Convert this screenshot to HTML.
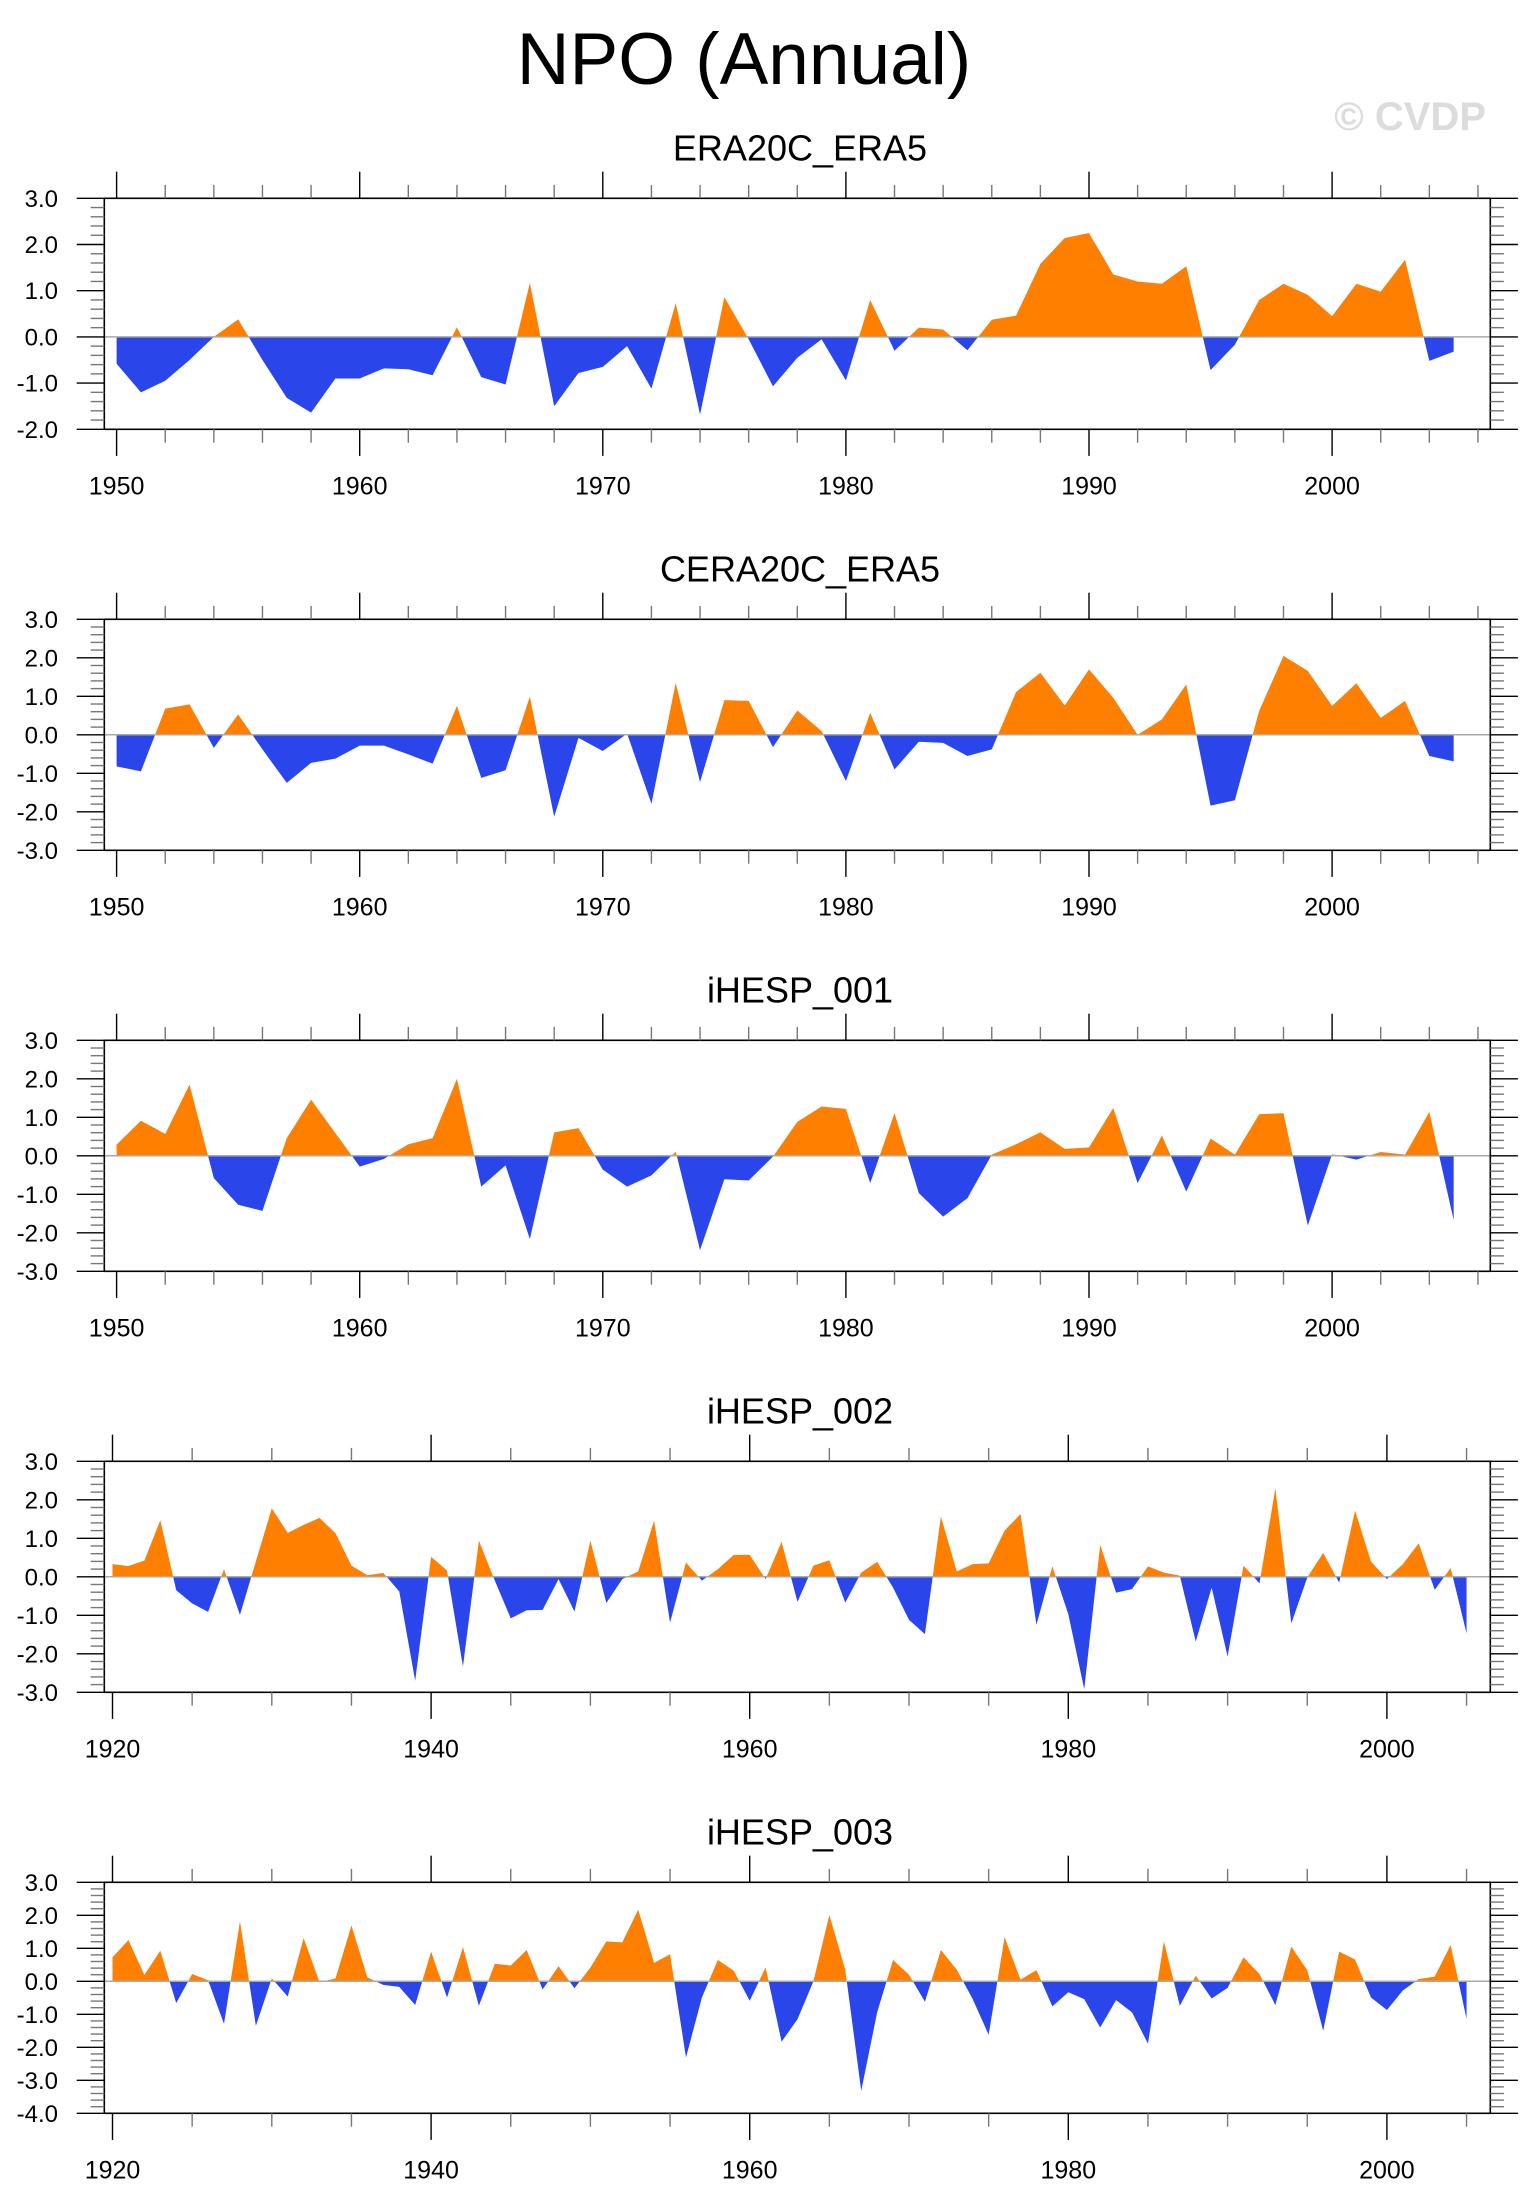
<!DOCTYPE html>
<html><head><meta charset="utf-8"><style>
html,body{margin:0;padding:0;background:#fff;}
svg{display:block;font-family:"Liberation Sans",Arial,sans-serif;}
</style></head><body>
<svg id="chart" width="1533" height="2211" viewBox="0 0 1533 2211" xmlns="http://www.w3.org/2000/svg">
<text x="744" y="84" font-size="73" text-anchor="middle" fill="#000">NPO (Annual)</text>
<text x="1486" y="130" font-size="40" font-weight="bold" text-anchor="end" fill="#dcdcdc">© CVDP</text>
</svg>
<script>
const titles = ["ERA20C_ERA5","CERA20C_ERA5","iHESP_001","iHESP_002","iHESP_003"];
const startYears = [1950,1950,1950,1920,1920];
const yMins = [-2,-3,-3,-3,-4];
const yMaxs = [3,3,3,3,3];
const era20c = [-0.58,-1.2,-0.95,-0.5,0.0,0.38,-0.5,-1.32,-1.64,-0.9,-0.9,-0.68,-0.7,-0.83,0.21,-0.87,-1.03,1.17,-1.5,-0.78,-0.65,-0.2,-1.12,0.73,-1.68,0.86,-0.05,-1.07,-0.45,-0.05,-0.94,0.8,-0.3,0.2,0.16,-0.29,0.37,0.46,1.58,2.14,2.25,1.35,1.2,1.15,1.53,-0.72,-0.17,0.8,1.15,0.91,0.45,1.15,0.98,1.67,-0.52,-0.32];
const cera20c = [-0.82,-0.95,0.68,0.79,-0.34,0.53,-0.38,-1.25,-0.73,-0.62,-0.28,-0.28,-0.51,-0.75,0.75,-1.12,-0.92,0.99,-2.13,-0.08,-0.42,0.03,-1.79,1.35,-1.23,0.9,0.88,-0.32,0.63,0.1,-1.2,0.57,-0.9,-0.18,-0.21,-0.55,-0.38,1.11,1.61,0.76,1.7,0.96,0.0,0.4,1.31,-1.84,-1.7,0.62,2.05,1.66,0.75,1.34,0.44,0.88,-0.55,-0.69];
const ihesp001 = [0.29,0.91,0.57,1.85,-0.58,-1.27,-1.43,0.46,1.46,0.59,-0.28,-0.08,0.3,0.46,2.0,-0.8,-0.25,-2.16,0.61,0.72,-0.36,-0.8,-0.51,0.11,-2.45,-0.61,-0.64,-0.02,0.88,1.28,1.22,-0.71,1.11,-0.97,-1.58,-1.1,0.03,0.3,0.61,0.18,0.22,1.24,-0.71,0.53,-0.93,0.45,0.03,1.08,1.11,-1.81,0.04,-0.1,0.1,0.03,1.14,-1.67];
const ihesp002 = [0.33,0.28,0.42,1.47,-0.35,-0.69,-0.91,0.2,-0.99,0.4,1.78,1.14,1.35,1.53,1.13,0.29,0.04,0.1,-0.38,-2.7,0.52,0.16,-2.33,0.94,-0.1,-1.08,-0.87,-0.86,-0.06,-0.9,0.94,-0.68,-0.06,0.14,1.46,-1.19,0.37,-0.1,0.2,0.57,0.57,-0.06,0.91,-0.65,0.29,0.43,-0.67,0.11,0.39,-0.28,-1.12,-1.49,1.57,0.14,0.33,0.35,1.2,1.63,-1.25,0.27,-0.97,-2.92,0.83,-0.41,-0.32,0.27,0.11,0.03,-1.68,-0.28,-2.07,0.29,-0.17,2.3,-1.21,-0.02,0.62,-0.15,1.72,0.4,-0.06,0.33,0.87,-0.34,0.23,-1.47];
const ihesp003 = [0.73,1.25,0.19,0.93,-0.66,0.22,0.03,-1.29,1.82,-1.35,0.09,-0.46,1.31,-0.03,0.09,1.69,0.12,-0.11,-0.17,-0.72,0.9,-0.49,1.03,-0.74,0.53,0.48,0.95,-0.25,0.46,-0.21,0.42,1.21,1.18,2.17,0.56,0.82,-2.31,-0.49,0.65,0.32,-0.59,0.42,-1.83,-1.15,0.0,2.01,0.35,-3.32,-0.94,0.65,0.2,-0.62,0.95,0.35,-0.54,-1.62,1.34,0.05,0.34,-0.76,-0.33,-0.54,-1.4,-0.57,-0.94,-1.89,1.21,-0.74,0.17,-0.52,-0.2,0.73,0.22,-0.72,1.05,0.34,-1.5,0.9,0.66,-0.49,-0.87,-0.28,0.07,0.14,1.1,-1.14];
const seriesList = [era20c,cera20c,ihesp001,ihesp002,ihesp003];
const yearLabelsA = [1950,1960,1970,1980,1990,2000];
const yearLabelsB = [1920,1940,1960,1980,2000];

const NS="http://www.w3.org/2000/svg";
const svg=document.getElementById('chart');
const L=104.3,R=1490.3,H=231,TOP0=198.3,GAP=421;
function mk(tag,attrs,parent){const e=document.createElementNS(NS,tag);for(const k in attrs)e.setAttribute(k,attrs[k]);(parent||svg).appendChild(e);return e;}

seriesList.forEach((vals,p)=>{
  const top=TOP0+p*GAP, bot=top+H;
  const y0=startYears[p];
  const longAxis = y0===1920;
  const x0 = longAxis?112.5:116.6, pxYr = longAxis?15.93:24.31;
  const xs = yr=>x0+(yr-y0)*pxYr;
  const ymin=yMins[p], ymax=yMaxs[p];
  const ys = v=>top+(ymax-v)/(ymax-ymin)*H;
  const g=mk('g',{});
  
  
  const t=mk('text',{x:800,y:top-38,'font-size':36,'text-anchor':'middle',fill:'#000'},g);
  t.textContent=titles[p];
  
  
  const id='c'+p;
  const defs=mk('defs',{},g);
  const cpA=mk('clipPath',{id:id+'a'},defs); mk('rect',{x:L,y:top,width:R-L,height:ys(0)-top},cpA);
  const cpB=mk('clipPath',{id:id+'b'},defs); mk('rect',{x:L,y:ys(0),width:R-L,height:bot-ys(0)},cpB);
  let d='M'+xs(y0).toFixed(2)+','+ys(0).toFixed(2);
  vals.forEach((v,i)=>{d+=' L'+xs(y0+i).toFixed(2)+','+ys(v).toFixed(2);});
  d+=' L'+xs(y0+vals.length-1).toFixed(2)+','+ys(0).toFixed(2)+' Z';
  const pa=mk('path',{d:d,fill:'#FF8000','clip-path':'url(#'+id+'a)'},g);
  
  
  const pb=mk('path',{d:d,fill:'#2A45EA','clip-path':'url(#'+id+'b)'},g);
  
  
  const zl=mk('line',{x1:L,x2:R,y1:ys(0),y2:ys(0),stroke:'#aaa','stroke-width':1.5},g);
  
  
  const fr=mk('rect',{x:L,y:top,width:R-L,height:H,fill:'none',stroke:'#000','stroke-width':1.6},g);
  
  
  for(let k=0;k<=(ymax-ymin)*5;k++){
    const v=ymin+k*0.2, yy=ys(v), major=(k%5===0);
    const len=major?27.6:13.6;
    mk('line',{x1:L-len,x2:L,y1:yy,y2:yy,stroke:major?'#000':'#777','stroke-width':1.4},g);
    mk('line',{x1:R,x2:R+len,y1:yy,y2:yy,stroke:major?'#000':'#777','stroke-width':1.4},g);
    if(major){
      const lt=mk('text',{x:58,y:yy+8.5,'font-size':24,'text-anchor':'end',fill:'#000'},g);
      lt.textContent=v.toFixed(1);
      
      
    }
  }
  const minorStep = longAxis?5:2, majorStep = longAxis?20:10;
  for(let yr=y0; xs(yr)<=R; yr+=minorStep){
    const xx=xs(yr), major=((yr-y0)%majorStep===0);
    const len=major?26.6:13.4;
    mk('line',{x1:xx,x2:xx,y1:top-len,y2:top,stroke:major?'#000':'#777','stroke-width':1.4},g);
    mk('line',{x1:xx,x2:xx,y1:bot,y2:bot+len,stroke:major?'#000':'#777','stroke-width':1.4},g);
  }
  (longAxis?yearLabelsB:yearLabelsA).forEach(yr=>{
    const lt=mk('text',{x:xs(yr),y:bot+65,'font-size':25,'text-anchor':'middle',fill:'#000'},g);
    lt.textContent=String(yr);
    
    
  });
});
</script>
</body></html>
